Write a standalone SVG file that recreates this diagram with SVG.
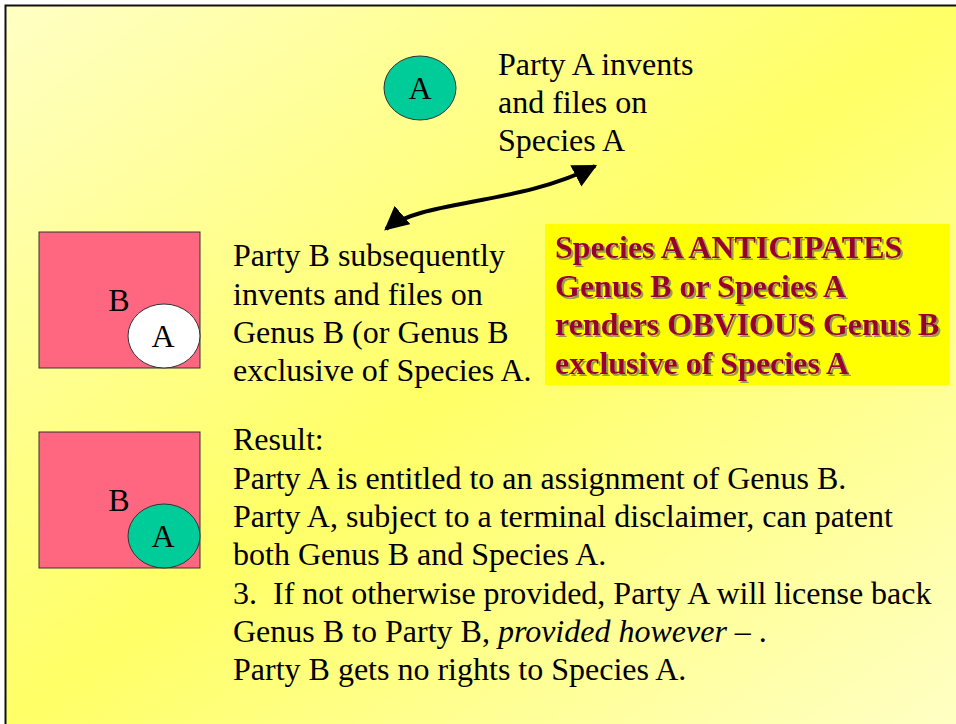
<svg xmlns="http://www.w3.org/2000/svg" width="956" height="724" viewBox="0 0 956 724">
<defs>
<linearGradient id="bg" x1="0" y1="0" x2="1" y2="1">
<stop offset="0" stop-color="#ffffc4"/>
<stop offset="0.5" stop-color="#ffff66"/>
<stop offset="1" stop-color="#ffffc4"/>
</linearGradient>
<marker id="ah" viewBox="0 0 10 10" refX="9" refY="5" markerWidth="6" markerHeight="6" orient="auto-start-reverse" markerUnits="strokeWidth">
<path d="M0,0 L10,5 L0,10 z" fill="#000"/>
</marker>
<filter id="sh" x="-5%" y="-5%" width="110%" height="120%">
<feOffset in="SourceAlpha" dx="1.5" dy="1.5" result="o"/>
<feFlood flood-color="#9a9a50"/>
<feComposite in2="o" operator="in" result="s"/>
<feMerge><feMergeNode in="s"/><feMergeNode in="SourceGraphic"/></feMerge>
</filter>
</defs>
<style>
text{font-family:'Liberation Serif','Times New Roman',Times,serif}
.t{font-size:32px;fill:#000}
.b{font-size:32px;font-weight:bold;fill:#990033}
.box{fill:#ff6680;stroke:#333;stroke-width:1}
.ell{stroke:#333;stroke-width:1}
</style>
<rect x="0" y="0" width="956" height="724" fill="#fff"/>
<rect x="6" y="6" width="950" height="718" fill="url(#bg)"/>
<path d="M5.5,724 V5.5 H956" fill="none" stroke="#111" stroke-width="2"/>

<g id="nodeA" font-family="Liberation Serif, serif">
<ellipse class="ell" cx="420" cy="88" rx="36" ry="32" fill="#00cc99"/>
<text class="t" x="420" y="99" text-anchor="middle">A</text>
</g>
<g id="textA" font-family="Liberation Serif, serif">
<text class="t" x="498" y="75">Party A invents</text>
<text class="t" x="498" y="113">and files on</text>
<text class="t" x="498" y="151">Species A</text>
</g>

<g id="connectors">
<path d="M386,229 C420,200 520,205 595,166" fill="none" stroke="#000" stroke-width="4" marker-start="url(#ah)" marker-end="url(#ah)"/>
</g>

<g id="nodeB1" font-family="Liberation Serif, serif">
<rect class="box" x="39" y="232" width="161" height="136"/>
<text class="t" x="119" y="311" text-anchor="middle">B</text>
<ellipse class="ell" cx="164" cy="336" rx="36" ry="32" fill="#fff"/>
<text class="t" x="163" y="347" text-anchor="middle">A</text>
</g>
<g id="textB" font-family="Liberation Serif, serif">
<text class="t" x="233" y="266">Party B subsequently</text>
<text class="t" x="233" y="305">invents and files on</text>
<text class="t" x="233" y="343">Genus B (or Genus B</text>
<text class="t" x="233" y="381">exclusive of Species A.</text>
</g>

<g id="note" font-family="Liberation Serif, serif">
<rect x="545" y="224" width="404" height="161" fill="#ffff00"/>
<g filter="url(#sh)">
<text class="b" x="555" y="258">Species A ANTICIPATES</text>
<text class="b" x="555" y="297">Genus B or Species A</text>
<text class="b" x="555" y="335">renders OBVIOUS Genus B</text>
<text class="b" x="555" y="374">exclusive of Species A</text>
</g>
</g>

<g id="nodeB2" font-family="Liberation Serif, serif">
<rect class="box" x="39" y="432" width="161" height="136"/>
<text class="t" x="119" y="511" text-anchor="middle">B</text>
<ellipse class="ell" cx="164" cy="536" rx="36" ry="32" fill="#00cc99"/>
<text class="t" x="163" y="547" text-anchor="middle">A</text>
</g>
<g id="result" font-family="Liberation Serif, serif">
<text class="t" x="233" y="450">Result:</text>
<text class="t" x="233" y="489">Party A is entitled to an assignment of Genus B.</text>
<text class="t" x="233" y="527">Party A, subject to a terminal disclaimer, can patent</text>
<text class="t" x="233" y="565">both Genus B and Species A.</text>
<text class="t" x="233" y="604" xml:space="preserve">3.  If not otherwise provided, Party A will license back</text>
<text class="t" x="233" y="642" xml:space="preserve">Genus B to Party B, <tspan font-style="italic">provided however</tspan> – .</text>
<text class="t" x="233" y="680">Party B gets no rights to Species A.</text>
</g>
</svg>
